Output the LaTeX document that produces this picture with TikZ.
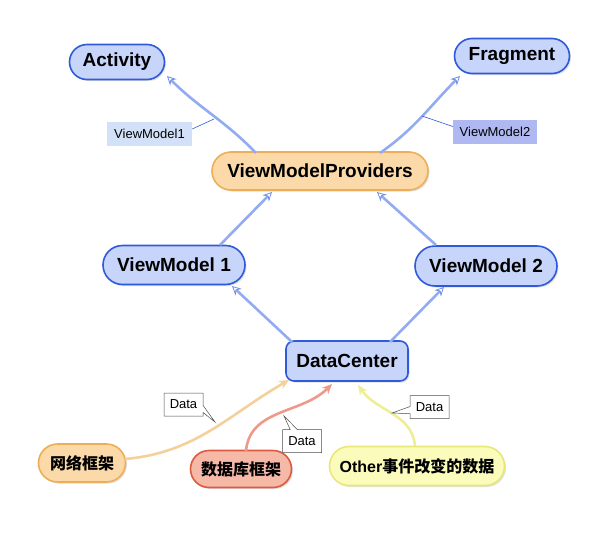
\documentclass[tikz,border=0pt]{standalone}
\usepackage{fontspec}
\setmainfont{Liberation Sans}
\newfontfamily\cjk{Noto Sans CJK SC}
\usetikzlibrary{arrows.meta,shadows,shapes.callouts,shapes.misc}
\definecolor{bfill}{HTML}{C8D5FA}
\definecolor{bdraw}{HTML}{2F5AD9}
\definecolor{bedge}{HTML}{93ABF0}
\definecolor{barrow}{HTML}{6F8DE6}
\definecolor{ofill}{HTML}{FBD9A8}
\definecolor{odraw}{HTML}{EEAE58}
\definecolor{oedge}{HTML}{F4D09A}
\definecolor{rfill}{HTML}{F6B9A8}
\definecolor{rdraw}{HTML}{DC5A40}
\definecolor{redge}{HTML}{EE9A8A}
\definecolor{yfill}{HTML}{FBFBBC}
\definecolor{ydraw}{HTML}{E8E87A}
\definecolor{yedge}{HTML}{EEEE96}
\definecolor{lab1}{HTML}{D3E1F8}
\definecolor{lab2}{HTML}{B0B8F2}
\tikzset{
  pill/.style={rounded rectangle, draw=#1draw, fill=#1fill, line width=1.6pt,
    font=\fontsize{19}{21}\selectfont\bfseries, inner sep=0pt,
    drop shadow={shadow xshift=1.5pt, shadow yshift=-1.5pt, opacity=0.25}},
  cpill/.style={pill=#1, font=\fontsize{16}{18}\selectfont\bfseries},
  bedgest/.style={draw=bedge, line width=2.6pt, -{Stealth[length=9pt,width=9pt,color=barrow,line width=0.8pt,open]}},
  dataedge/.style={draw=#1, line width=2.6pt, -{Stealth[length=10pt,width=9pt]}},
  datacall/.style={rectangle callout, draw=black!70, fill=white, line width=0.5pt,
    font=\fontsize{13}{15}\selectfont, minimum width=39pt, minimum height=23pt, inner sep=2pt},
  vmlabel/.style={fill=#1, font=\fontsize{13}{15}\selectfont, minimum height=24pt, inner sep=3pt},
  leader/.style={draw=bdraw, line width=0.6pt}
}
\begin{document}
\begin{tikzpicture}[x=1pt,y=-1pt]
\useasboundingbox (0,0) rectangle (614,536);
\node[pill=b, minimum width=95pt, minimum height=35pt] (act) at (117,62) {Activity};
\node[pill=b, minimum width=115pt, minimum height=35pt] (frag) at (512,56) {Fragment};
\node[pill=o, minimum width=216pt, minimum height=38pt] (vmp) at (320,171) {ViewModelProviders};
\node[pill=b, minimum width=142pt, minimum height=39pt] (vm1) at (174,265) {ViewModel 1};
\node[pill=b, minimum width=142pt, minimum height=40pt] (vm2) at (486,266) {ViewModel 2};
\node[rectangle, rounded corners=8pt, draw=bdraw, fill=bfill, line width=1.6pt,
  font=\fontsize{19}{21}\selectfont\bfseries, minimum width=122pt, minimum height=40pt,
  drop shadow={shadow xshift=1.5pt, shadow yshift=-1.5pt, opacity=0.25}] (dc) at (347,361) {DataCenter};
\node[cpill=o, minimum width=87pt, minimum height=38pt] (net) at (82,463) {\cjk\bfseries 网络框架};
\node[cpill=r, minimum width=101pt, minimum height=37pt] (db) at (241,469) {\cjk\bfseries 数据库框架};
\node[cpill=y, minimum width=175pt, minimum height=39pt] (oth) at (417,466) {Other{\cjk\bfseries 事件改变的数据}};

% blue edges
\coordinate (pA) at (214,119);
\coordinate (pF) at (422,116);
\coordinate (s1) at (256,153);
\coordinate (s2) at (380,153);
\coordinate (t1) at (167,76);
\coordinate (t2) at (460,76);
\draw[bedgest] (s1) to[out=134,in=-45] (t1);
\draw[bedgest] (s2) to[out=35,in=-135] (t2);
\draw[bedgest] (220,245) -- (272,192);
\draw[bedgest] (436,245) -- (377,192);
\draw[bedgest] (292,342) -- (232,286);
\draw[bedgest] (390,342) -- (444,287);

% data edges
\draw[dataedge=oedge] (125,459) to[out=5,in=-150] (289,380);
\draw[dataedge=redge] (246,451) to[out=85,in=-135] (332,384);
\draw[dataedge=yedge] (415,446) to[out=95,in=-55] (358,385);

% labels
\node[vmlabel=lab1, minimum width=85pt] (l1) at (149.5,134) {ViewModel1};
\draw[leader] ([yshift=5pt]l1.east) -- (pA);
\node[vmlabel=lab2, minimum width=84pt] (l2) at (495,131.5) {ViewModel2};
\draw[leader] ([yshift=5pt]l2.west) -- (pF);

\coordinate (d1) at (215,422);
\coordinate (d2) at (284,416);
\coordinate (d3) at (392,413);
\node[datacall, callout absolute pointer={(d1)}] (c1) at (183.5,404.5) {Data};
\node[datacall, callout absolute pointer={(d2)}] (c2) at (302,441) {Data};
\node[datacall, callout absolute pointer={(d3)}] (c3) at (429.5,407) {Data};
\end{tikzpicture}
\end{document}
